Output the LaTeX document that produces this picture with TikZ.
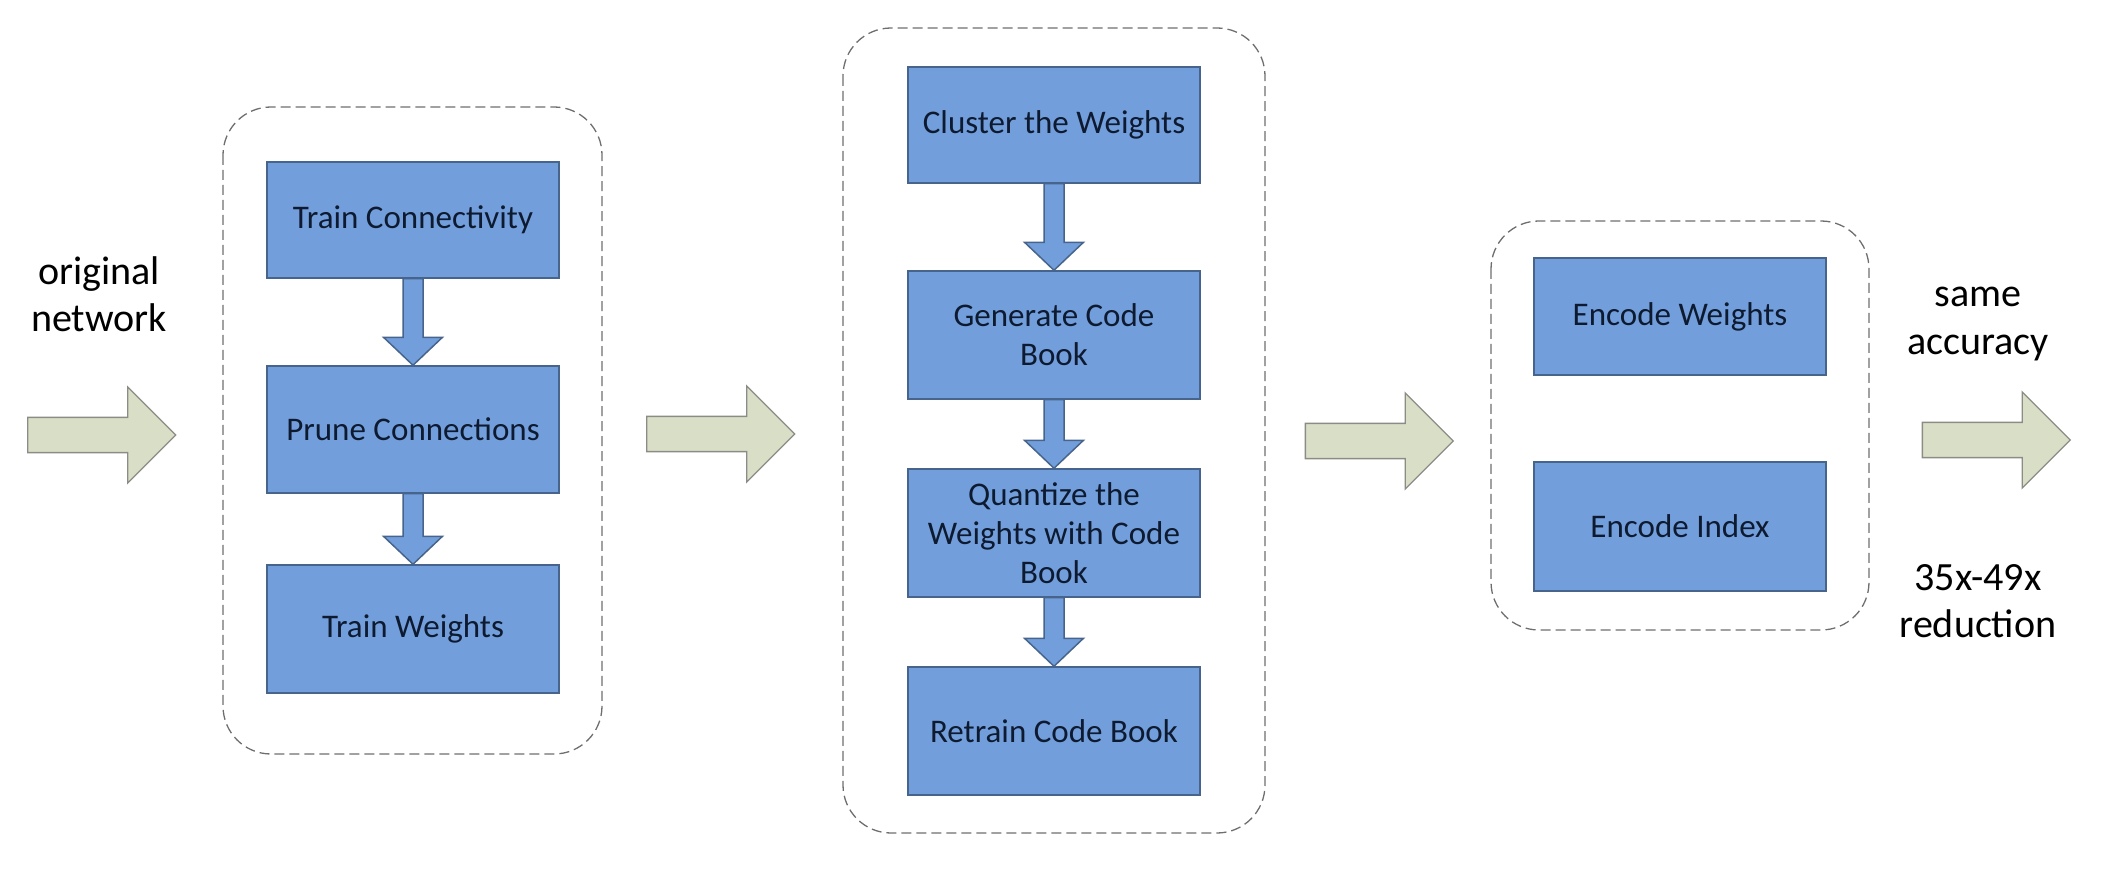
\documentclass[tikz,border=0pt]{standalone}
\usepackage{fontspec}
\setmainfont{Carlito}
\usetikzlibrary{shapes.arrows,calc}

\definecolor{boxfill}{RGB}{114,159,220}
\definecolor{boxline}{RGB}{70,100,140}
\definecolor{boxtext}{RGB}{14,26,48}
\definecolor{arrowfill}{RGB}{217,223,198}
\definecolor{arrowline}{RGB}{140,140,135}
\definecolor{dashgray}{RGB}{110,110,110}

\newcommand{\boxfont}{\fontsize{18.8}{22.2}\selectfont}
\newcommand{\labelfont}{\fontsize{22.8}{27}\selectfont}

\tikzset{
  stepbox/.style={draw=boxline, fill=boxfill, line width=0.03cm, minimum width=5.84cm,
    inner sep=0pt, text=boxtext, font=\boxfont, align=center},
  stage/.style={draw=dashgray, line width=0.026cm, dash pattern=on 0.2cm off 0.1cm,
    rounded corners=0.96cm},
  bigarrow/.style={single arrow, draw=arrowline, fill=arrowfill, line width=0.026cm,
    minimum height=2.96cm, minimum width=1.9cm, single arrow head extend=0.61cm,
    inner xsep=0pt, inner ysep=0.34cm},
  sidelabel/.style={font=\labelfont, align=center, inner sep=0pt}
}

% block arrow from the bottom of one box to the top of the next
\newcommand{\blockdown}[2]{%
  \draw [draw=boxline, fill=boxfill, line width=0.03cm]
    ($(#1.south)+(-10,0)$) -- ($(#2.north)+(-10,-28)$) -- ($(#2.north)+(-29.5,-28)$)
    -- (#2.north) -- ($(#2.north)+(29.5,-28)$) -- ($(#2.north)+(10,-28)$)
    -- ($(#1.south)+(10,0)$) -- cycle;%
}

\begin{document}
\begin{tikzpicture}[x=0.02cm, y=-0.02cm]
  \useasboundingbox (0,0) rectangle (2104,878);

  % Marking input and output
  \node [sidelabel] (orig) at (99,294) {original\\network};
  \node [sidelabel] (acc) at (1978,324) {same\\accuracy};
  \node [sidelabel] (red) at (1978,601) {35x-49x\\reduction};

  % Drawing arrows between stages
  \node [bigarrow] (arrA) at (93,435) {};
  \node [bigarrow] (arrB) at (712,434) {};
  \node [bigarrow] (arrC) at (1370.5,441) {};
  \node [bigarrow] (arrD) at (1987.5,440) {};

  % Drawing stage pruning
  \draw [stage] (223,107) rectangle (602,754);
  \node [stepbox, minimum height=2.32cm] (tc) at (413,220) {Train Connectivity};
  \node [stepbox, minimum height=2.54cm] (pc) at (413,429.5) {Prune Connections};
  \node [stepbox, minimum height=2.56cm] (tw) at (413,629) {Train Weights};
  \blockdown{tc}{pc}
  \blockdown{pc}{tw}

  % Drawing stage quantization
  \draw [stage] (843,28) rectangle (1265,833);
  \node [stepbox, minimum height=2.32cm] (cw) at (1054,125) {Cluster the Weights};
  \node [stepbox, minimum height=2.56cm] (gcb) at (1054,335) {Generate Code\\Book};
  \node [stepbox, minimum height=2.56cm] (qw) at (1054,533) {Quantize the\\Weights with Code\\Book};
  \node [stepbox, minimum height=2.56cm] (rcb) at (1054,731) {Retrain Code Book};
  \blockdown{cw}{gcb}
  \blockdown{gcb}{qw}
  \blockdown{qw}{rcb}

  % Drawing stage encoding
  \draw [stage] (1491,221) rectangle (1869,630);
  \node [stepbox, minimum height=2.34cm] (ew) at (1680,316.5) {Encode Weights};
  \node [stepbox, minimum height=2.58cm] (ei) at (1680,526.5) {Encode Index};
\end{tikzpicture}
\end{document}
